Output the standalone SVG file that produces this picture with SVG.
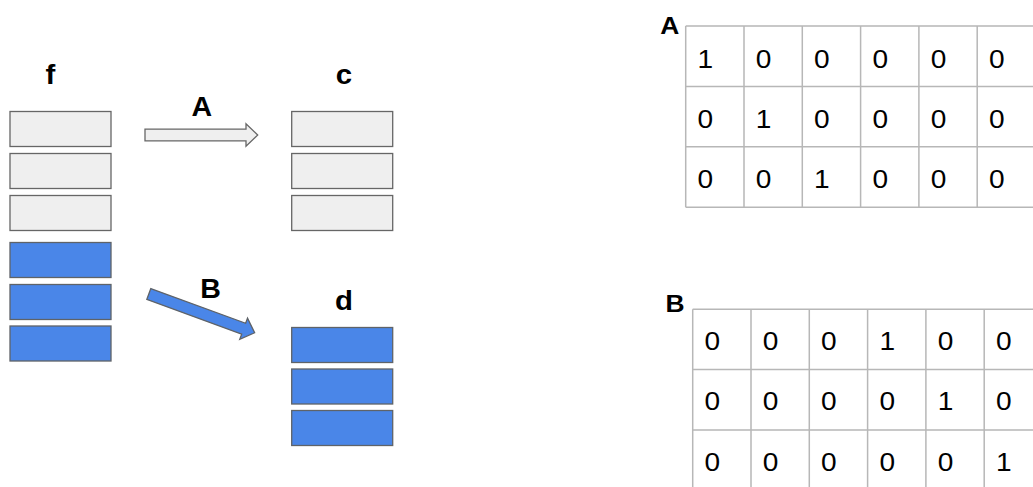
<svg xmlns="http://www.w3.org/2000/svg" width="1033" height="487" viewBox="0 0 1033 487">
  <style>
    .gray { fill: #efefef; stroke: #666666; stroke-width: 1.3; }
    .blue { fill: #4a86e8; stroke: #5f6368; stroke-width: 1.3; }
    .lbl { font-family: "Liberation Sans", Arial, sans-serif; font-weight: bold; font-size: 28px; fill: #000; text-anchor: middle; }
    .tlbl { font-family: "Liberation Sans", Arial, sans-serif; font-weight: bold; font-size: 24px; fill: #000; text-anchor: middle; }
    .num { font-family: "Liberation Sans", Arial, sans-serif; font-size: 26px; fill: #000; }
    .grid { stroke: #b7b7b7; stroke-width: 1.5; fill: none; }
  </style>
  <defs>
    <!-- block arrow, tail at origin pointing along +x -->
    <path id="blockArrow" d="M0,-5.8 H101 V-11.3 L112.7,0 L101,11.3 V5.8 H0 Z"/>
  </defs>
  <rect width="1033" height="487" fill="#ffffff"/>

  <!-- vector f: three gray rows followed by three blue rows -->
  <g id="stack-f">
    <text class="lbl" transform="translate(50.5 84) scale(1.05 1)">f</text>
    <rect class="gray" x="10" y="111.5" width="101" height="35"/>
    <rect class="gray" x="10" y="153.5" width="101" height="35"/>
    <rect class="gray" x="10" y="195.5" width="101" height="35"/>
    <rect class="blue" x="10" y="242.5" width="101" height="35"/>
    <rect class="blue" x="10" y="284.5" width="101" height="35"/>
    <rect class="blue" x="10" y="326" width="101" height="35"/>
  </g>

  <!-- vector c -->
  <g id="stack-c">
    <text class="lbl" transform="translate(344 84) scale(1.05 1)">c</text>
    <rect class="gray" x="291.7" y="111.5" width="101" height="35"/>
    <rect class="gray" x="291.7" y="153.5" width="101" height="35"/>
    <rect class="gray" x="291.7" y="195.5" width="101" height="35"/>
  </g>

  <!-- vector d -->
  <g id="stack-d">
    <text class="lbl" transform="translate(344 309.5) scale(1.05 1)">d</text>
    <rect class="blue" x="291.7" y="327.5" width="101" height="35"/>
    <rect class="blue" x="291.7" y="369" width="101" height="35"/>
    <rect class="blue" x="291.7" y="410.5" width="101" height="35"/>
  </g>

  <!-- selection arrows -->
  <g id="connectors">
    <use href="#blockArrow" class="gray" transform="translate(145 135)"/>
    <text class="lbl" transform="translate(201.7 116) scale(1.02 1)">A</text>
    <use href="#blockArrow" class="blue" transform="translate(148.8 294) rotate(20.1)"/>
    <text class="lbl" transform="translate(210.5 297.5) scale(1.02 1)">B</text>
  </g>

  <!-- matrix A -->
  <g id="matrix-A">
    <text class="tlbl" transform="translate(669.7 34) scale(1.1 1)">A</text>
    <path class="grid" d="M685.7,26 H1033 M685.7,86.4 H1033 M685.7,146.8 H1033 M685.7,207.2 H1033
      M685.7,26 V207.2 M744,26 V207.2 M802.3,26 V207.2 M860.6,26 V207.2 M918.9,26 V207.2 M977.2,26 V207.2"/>
    <g class="num">
      <text transform="translate(697.5 67.5) scale(1.08 1)">1</text>
      <text transform="translate(755.8 67.5) scale(1.08 1)">0</text>
      <text transform="translate(814.1 67.5) scale(1.08 1)">0</text>
      <text transform="translate(872.4 67.5) scale(1.08 1)">0</text>
      <text transform="translate(930.7 67.5) scale(1.08 1)">0</text>
      <text transform="translate(989 67.5) scale(1.08 1)">0</text>
      <text transform="translate(697.5 127.9) scale(1.08 1)">0</text>
      <text transform="translate(755.8 127.9) scale(1.08 1)">1</text>
      <text transform="translate(814.1 127.9) scale(1.08 1)">0</text>
      <text transform="translate(872.4 127.9) scale(1.08 1)">0</text>
      <text transform="translate(930.7 127.9) scale(1.08 1)">0</text>
      <text transform="translate(989 127.9) scale(1.08 1)">0</text>
      <text transform="translate(697.5 188.2) scale(1.08 1)">0</text>
      <text transform="translate(755.8 188.2) scale(1.08 1)">0</text>
      <text transform="translate(814.1 188.2) scale(1.08 1)">1</text>
      <text transform="translate(872.4 188.2) scale(1.08 1)">0</text>
      <text transform="translate(930.7 188.2) scale(1.08 1)">0</text>
      <text transform="translate(989 188.2) scale(1.08 1)">0</text>
    </g>
  </g>

  <!-- matrix B -->
  <g id="matrix-B">
    <text class="tlbl" transform="translate(675 311.5) scale(1.1 1)">B</text>
    <path class="grid" d="M692.7,309.3 H1033 M692.7,369.6 H1033 M692.7,429.9 H1033
      M692.7,309.3 V487 M751,309.3 V487 M809.3,309.3 V487 M867.6,309.3 V487 M925.9,309.3 V487 M984.2,309.3 V487"/>
    <g class="num">
      <text transform="translate(704.5 349.7) scale(1.08 1)">0</text>
      <text transform="translate(762.8 349.7) scale(1.08 1)">0</text>
      <text transform="translate(821.1 349.7) scale(1.08 1)">0</text>
      <text transform="translate(879.4 349.7) scale(1.08 1)">1</text>
      <text transform="translate(937.7 349.7) scale(1.08 1)">0</text>
      <text transform="translate(996 349.7) scale(1.08 1)">0</text>
      <text transform="translate(704.5 410.2) scale(1.08 1)">0</text>
      <text transform="translate(762.8 410.2) scale(1.08 1)">0</text>
      <text transform="translate(821.1 410.2) scale(1.08 1)">0</text>
      <text transform="translate(879.4 410.2) scale(1.08 1)">0</text>
      <text transform="translate(937.7 410.2) scale(1.08 1)">1</text>
      <text transform="translate(996 410.2) scale(1.08 1)">0</text>
      <text transform="translate(704.5 470.5) scale(1.08 1)">0</text>
      <text transform="translate(762.8 470.5) scale(1.08 1)">0</text>
      <text transform="translate(821.1 470.5) scale(1.08 1)">0</text>
      <text transform="translate(879.4 470.5) scale(1.08 1)">0</text>
      <text transform="translate(937.7 470.5) scale(1.08 1)">0</text>
      <text transform="translate(996 470.5) scale(1.08 1)">1</text>
    </g>
  </g>
</svg>
